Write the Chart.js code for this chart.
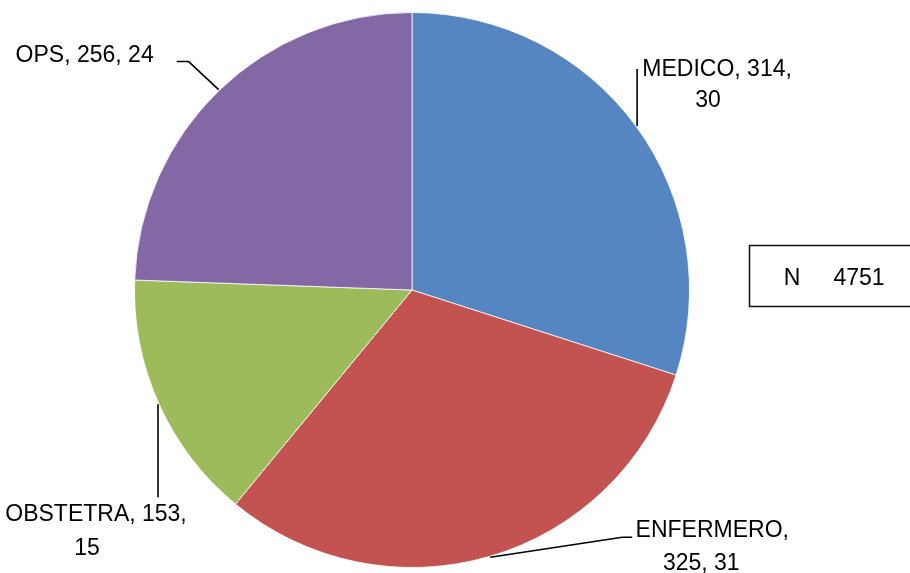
<!DOCTYPE html>
<html>
<head>
<meta charset="utf-8">
<script src="https://cdn.jsdelivr.net/npm/chart.js@4/dist/chart.umd.min.js"></script>
<style>
  html, body { margin: 0; padding: 0; background: #ffffff; }
  #wrap { width: 910px; height: 573px; position: relative; }
</style>
</head>
<body>
<div id="wrap"><canvas id="c" width="910" height="573"></canvas></div>
<script>
const categories = ["MEDICO", "ENFERMERO", "OBSTETRA", "OPS"];
const values = [314, 325, 153, 256];
const percents = [30, 31, 15, 24];
const totalN = 4751;
const colors = ["#5586C2", "#C25350", "#9DBB5B", "#8468A5"];

const FONT = '23px "Liberation Sans", Arial, sans-serif';

// label layout: leader path offsets relative to slice edge point, text lines relative to path end
const labelLayout = [
  { path: [[0, -57]], lines: [[80, 7, "{c}, {v},"], [71, 38, "{p}"]] },
  { path: [[132, -20], [142, -20]], lines: [[80, 0, "{c},"], [69, 33, "{v}, {p}"]] },
  { path: [[0, 93]], lines: [[-62, 24, "{c}, {v},"], [-71, 58, "{p}"]] },
  { path: [[-30, -28], [-42, -28]], lines: [[-92, 0, "{c}, {v}, {p}"]] }
];

const labelPlugin = {
  id: 'leaderLabels',
  afterDraw(chart) {
    const ctx = chart.ctx;
    const meta = chart.getDatasetMeta(0);
    ctx.save();
    ctx.font = FONT;
    ctx.fillStyle = '#000';
    ctx.strokeStyle = '#000';
    ctx.lineWidth = 1.6;
    ctx.textAlign = 'center';
    ctx.textBaseline = 'alphabetic';
    meta.data.forEach((arc, i) => {
      const p = arc.getProps(['x', 'y', 'startAngle', 'endAngle', 'outerRadius'], true);
      const mid = (p.startAngle + p.endAngle) / 2;
      const ex = p.x + Math.cos(mid) * (p.outerRadius + 1);
      const ey = p.y + Math.sin(mid) * (p.outerRadius + 1);
      const lay = labelLayout[i];
      ctx.beginPath();
      ctx.moveTo(ex, ey);
      let lx = ex, ly = ey;
      lay.path.forEach(([dx, dy]) => { lx = ex + dx; ly = ey + dy; ctx.lineTo(lx, ly); });
      ctx.stroke();
      lay.lines.forEach(([dx, dy, tpl]) => {
        const txt = tpl.replace('{c}', categories[i]).replace('{v}', values[i]).replace('{p}', percents[i]);
        ctx.fillText(txt, lx + dx, ly + dy);
      });
    });
    // N box
    ctx.lineWidth = 1.5;
    ctx.strokeStyle = '#111';
    ctx.strokeRect(749.5, 245.5, 170, 61);
    ctx.fillText('N', 792, 285);
    ctx.fillText(String(totalN), 859, 285);
    ctx.restore();
  }
};

new Chart(document.getElementById('c'), {
  type: 'pie',
  data: {
    labels: categories,
    datasets: [{
      data: values,
      backgroundColor: colors,
      borderColor: 'rgba(255,255,255,0.8)',
      borderWidth: 1
    }]
  },
  options: {
    responsive: false,
    animation: false,
    layout: { padding: { top: 12, bottom: 5, left: 134, right: 220 } },
    plugins: { legend: { display: false }, tooltip: { enabled: false } }
  },
  plugins: [labelPlugin]
});
</script>
</body>
</html>
